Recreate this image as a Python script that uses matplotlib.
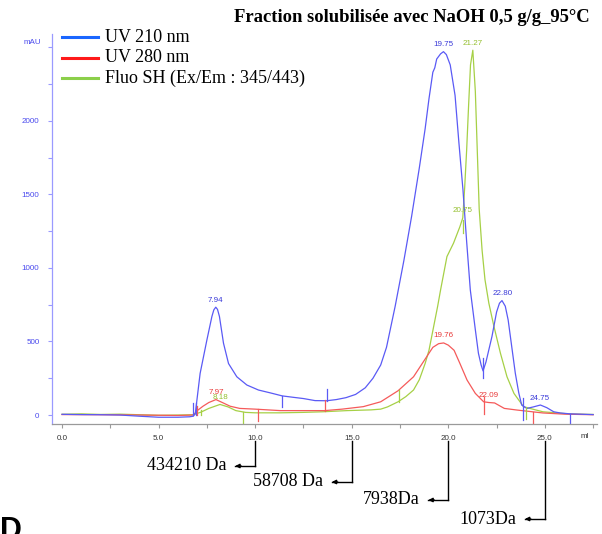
import matplotlib
matplotlib.use("Agg")
import matplotlib.pyplot as plt
from matplotlib.lines import Line2D
from matplotlib.ticker import MultipleLocator, FormatStrFormatter

# ---------------- data ----------------
blue_x = [0, 1, 2, 3, 4, 5, 6, 6.6, 6.8, 6.9, 7.15, 7.5, 7.76, 7.86, 7.96, 8.05, 8.15, 8.36,
          8.62, 9.05, 9.57, 10.17, 10.8, 11.4, 12.0, 12.5, 13.1, 13.7, 14.2, 14.7, 15.2,
          15.7, 16.1, 16.5, 16.8, 17.25, 17.7, 18.1, 18.5, 18.8, 19.0, 19.2, 19.3, 19.4,
          19.6, 19.75, 19.9, 20.1, 20.35, 20.55, 20.76, 20.95, 21.14, 21.4, 21.56, 21.7,
          21.8, 21.95, 22.26, 22.5, 22.65, 22.78, 22.95, 23.1, 23.3, 23.47, 23.65, 23.8,
          24.07, 24.4, 24.77, 25.1, 25.46, 25.8, 26.3, 27.0, 27.5]
blue_y = [5, 3, 2, 0, -8, -15, -15, -12, -8, 10, 283, 510, 670, 715, 733, 718, 670, 488,
          350, 260, 204, 170, 150, 130, 120, 112, 98, 97, 105, 118, 140,
          185, 250, 340, 460, 740, 1050, 1350, 1680, 1945, 2150, 2330, 2360, 2420,
          2455, 2470, 2450, 2380, 2173, 1850, 1530, 1180, 850, 580, 420, 340,
          300, 360, 533, 700, 760, 778, 740, 646, 450, 284, 150, 68,
          45, 55, 68, 50, 22, 14, 8, 5, 3]

red_x = [0, 2, 4, 6, 6.8, 7.0, 7.3, 7.6, 7.97, 8.3, 8.7, 9.2, 10, 11.3, 12.5, 13.6, 14.5,
         15.6, 16.5, 17.4, 18.2, 18.9, 19.2, 19.5, 19.76, 20.0, 20.3, 20.6, 20.97, 21.4,
         21.83, 22.1, 22.4, 22.9, 23.55, 24.9, 26, 27.5]
red_y = [3, 2, 0, -3, 0, 30, 60, 85, 105, 85, 60, 45, 40, 30, 30, 30, 40,
         57, 90, 165, 260, 400, 460, 485, 490, 475, 440, 351, 238, 147,
         90, 85, 82, 45, 34, 14, 6, 2]

green_x = [0, 1, 2, 3, 4, 5, 6, 6.8, 7.2, 7.6, 8.18, 8.6, 9.0, 9.5, 10, 11.3, 12.5, 13.5,
           14.75, 16.0, 16.5, 16.85, 17.4, 17.8, 18.2, 18.5, 18.8, 19.0, 19.24, 19.45,
           19.6, 19.93, 20.27, 20.6, 20.75, 20.85, 20.95, 21.05, 21.15, 21.27, 21.4,
           21.5, 21.6, 21.75, 21.9, 22.1, 22.35, 22.7, 23.04, 23.4, 23.9, 24.9, 26.3, 27.5]
green_y = [5, 8, 4, 6, 2, -2, 0, 2, 20, 45, 72, 55, 30, 18, 15, 15, 18, 22,
           30, 35, 40, 55, 90, 125, 170, 240, 350, 440, 600, 740,
           850, 1077, 1168, 1280, 1340, 1550, 1800, 2100, 2380, 2480, 2200,
           1800, 1400, 1120, 920, 760, 610, 420, 260, 147, 56, 22, 7, 4]

# integration marks (x, y_start, y_end)
blue_marks = [(6.8, 0, 80), (6.95, 0, 80), (11.4, 55, 130), (13.7, 97, 180),
              (21.8, 250, 390), (23.85, -35, 115), (26.3, -70, 10)]
red_marks = [(7.0, 0, 60), (10.15, -40, 40), (13.6, 30, 100), (21.85, 10, 120), (24.4, -80, 20)]
green_marks = [(7.2, 0, 35), (9.36, -60, 18), (17.45, 90, 170), (20.75, 1240, 1325), (24.0, -25, 55)]

blue_peaks = [(7.94, 733, "7.94"), (19.75, 2470, "19.75"), (22.80, 778, "22.80"), (24.75, 68, "24.75")]
red_peaks = [(7.97, 105, "7.97"), (19.76, 490, "19.76"), (22.09, 85, "22.09")]
green_peaks = [(8.18, 72, "8.18"), (20.75, 1340, "20.75"), (21.27, 2480, "21.27")]

legend_labels = ["UV 210 nm", "UV 280 nm", "Fluo SH (Ex/Em : 345/443)"]
mw_x = [10, 15, 20, 25]
mw_labels = ["434210 Da", "58708 Da", "7938Da", "1073Da"]

title = "Fraction solubilisée avec NaOH 0,5 g/g_95°C"

# ---------------- styles ----------------
W, H = 602, 534
c_blue, c_red, c_green = "#5a5af5", "#f55a5a", "#a6d046"
c_blue_t, c_red_t, c_green_t = "#3a3ad8", "#e83a3a", "#94bf2e"
leg_cols = ["#1a66ff", "#ff1a1a", "#8ccf4a"]

fig = plt.figure(figsize=(W / 100, H / 100), dpi=100)
ax = fig.add_axes([52 / W, 1 - 424 / H, (597 - 52) / W, (424 - 34) / H])
ax.set_xlim(-0.52, 27.7)
ax.set_ylim(-61, 2590)

ax.plot(green_x, green_y, color=c_green, lw=0.9)
ax.plot(red_x, red_y, color=c_red, lw=0.9)
ax.plot(blue_x, blue_y, color=c_blue, lw=0.9)

for marks, col in [(blue_marks, c_blue), (red_marks, c_red), (green_marks, c_green)]:
    for x, y0, y1 in marks:
        ax.plot([x, x], [y0, y1], color=col, lw=0.9)

for peaks, col in [(blue_peaks, c_blue_t), (red_peaks, c_red_t), (green_peaks, c_green_t)]:
    for x, y, lab in peaks:
        ax.annotate(lab, (x, y), xytext=(0, 2.5), textcoords="offset points",
                    ha="center", va="bottom", fontsize=5.8, color=col,
                    family="Liberation Sans")

for s in ["top", "right"]:
    ax.spines[s].set_visible(False)
ax.spines["left"].set_color("#9a9aff")
ax.spines["bottom"].set_color("#9a9a9a")
ax.spines["left"].set_linewidth(0.9)
ax.spines["bottom"].set_linewidth(0.9)

ax.yaxis.set_minor_locator(MultipleLocator(250))
ax.xaxis.set_major_locator(MultipleLocator(5))
ax.xaxis.set_minor_locator(MultipleLocator(2.5))
ax.xaxis.set_major_formatter(FormatStrFormatter("%.1f"))
ax.set_yticks([0, 500, 1000, 1500, 2000])
ax.tick_params(axis="y", which="both", colors="#9a9aff", labelcolor="#4a4aee",
               labelsize=5.8, length=3, width=0.8, pad=6)
ax.tick_params(axis="x", which="both", colors="#9a9a9a", labelcolor="#333333",
               labelsize=5.8, length=3, width=0.8, pad=5)
for lab in ax.get_xticklabels() + ax.get_yticklabels():
    lab.set_family("Liberation Sans")

fig.text(41 / W, 1 - 42 / H, "mAU", ha="right", va="center", fontsize=5.8,
         color="#4a4aee", family="Liberation Sans")
fig.text(585 / W, 1 - 436 / H, "ml", ha="center", va="center", fontsize=5.8,
         color="#333333", family="Liberation Sans")

# title
fig.text(590 / W, 1 - 17 / H, title, ha="right", va="center", fontsize=13.4,
         weight="bold", family="Liberation Serif")

# legend
for i, (lab, col) in enumerate(zip(legend_labels, leg_cols)):
    y = 1 - (37 + 20.5 * i) / H
    fig.add_artist(Line2D([62 / W, 98 / W], [y, y], color=col, lw=2.2,
                          transform=fig.transFigure))
    fig.text(105 / W, y, lab, ha="left", va="center", fontsize=13,
             family="Liberation Serif")

# molecular weight markers
mw_y = [466, 482, 500, 519]
for x, lab, yp in zip(mw_x, mw_labels, mw_y):
    xp = ax.transData.transform((x, 0))[0]
    fig.add_artist(Line2D([xp / W, xp / W], [1 - 441 / H, 1 - yp / H], color="black",
                          lw=1.0, transform=fig.transFigure))
    tip = xp - 20
    fig.add_artist(Line2D([tip / W, xp / W], [1 - yp / H, 1 - yp / H], color="black",
                          lw=1.0, transform=fig.transFigure))
    ax.annotate("", xy=(tip / W, 1 - yp / H), xytext=((tip + 6) / W, 1 - yp / H),
                xycoords="figure fraction", textcoords="figure fraction",
                arrowprops=dict(arrowstyle="-|>", color="black", lw=1.0,
                                mutation_scale=6, shrinkA=0, shrinkB=0))
    fig.text((tip - 9) / W, 1 - yp / H, lab, ha="right", va="center", fontsize=13,
             family="Liberation Serif")

fig.text(0 / W, 1 - 516 / H, "D", ha="left", va="top", fontsize=22, weight="bold",
         family="Liberation Sans")

fig.savefig("out.png", dpi=100)
